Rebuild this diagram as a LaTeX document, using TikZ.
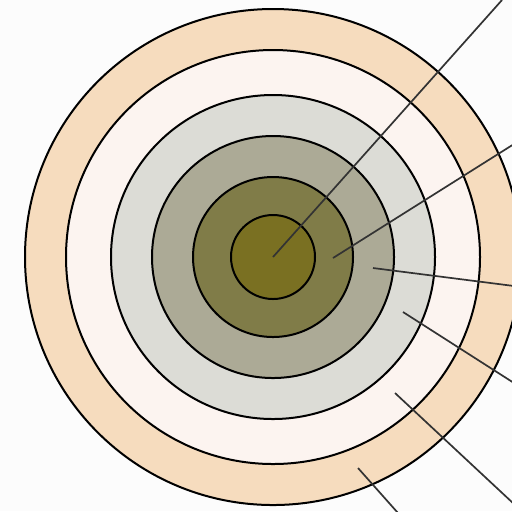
\documentclass[tikz,border=0pt]{standalone}
\usepackage{tikz}
\usetikzlibrary{calc}
\definecolor{bgWhite}{RGB}{252, 252, 252}
\definecolor{ringPeach}{RGB}{246, 220, 190}
\definecolor{ringCream}{RGB}{252, 244, 240}
\definecolor{ringMist}{RGB}{220, 220, 214}
\definecolor{ringSage}{RGB}{172, 170, 150}
\definecolor{ringMoss}{RGB}{128, 124, 72}
\definecolor{ringOlive}{RGB}{122, 112, 34}
\begin{document}
\begin{tikzpicture}[
    x=0.5pt, y=-0.5pt,
    ring/.style={draw=black, line width=1pt, fill=#1},
    ring/.default={white},
    leader/.style={draw=black!80, line width=0.85pt}
]

% frame
\fill[bgWhite] (0,0) rectangle (512,511);
\useasboundingbox (0,0) rectangle (512,511);

% centre of the rings
\coordinate (ctr) at (273,257);

% Rings, outside in
\draw[ring=ringPeach] (ctr) circle (248);
\draw[ring=ringCream] (ctr) circle (207);
\draw[ring=ringMist]  (ctr) circle (162);
\draw[ring=ringSage]  (ctr) circle (121);
\draw[ring=ringMoss]  (ctr) circle (80);
\draw[ring=ringOlive] (ctr) circle (42);

% Leader ends
\coordinate (inOlive) at (ctr);
\coordinate (inMoss)  at (333,258);
\coordinate (inSage)  at (373,268);
\coordinate (inMist)  at (403,312);
\coordinate (inCream) at (395,393);
\coordinate (inPeach) at (358,468);
\coordinate (outOlive) at (502,0);
\coordinate (outMoss)  at (514,144);
\coordinate (outSage)  at (514,286);
\coordinate (outMist)  at (514,383);
\coordinate (outCream) at (514,504);
\coordinate (outPeach) at (398,513);

% Leaders
\draw[leader] (inOlive) -- (outOlive);
\draw[leader] (inMoss) -- (outMoss);
\draw[leader] (inSage) -- (outSage);
\draw[leader] (inMist) -- (outMist);
\draw[leader] (inCream) -- (outCream);
\draw[leader] (inPeach) -- (outPeach);

\end{tikzpicture}
\end{document}
